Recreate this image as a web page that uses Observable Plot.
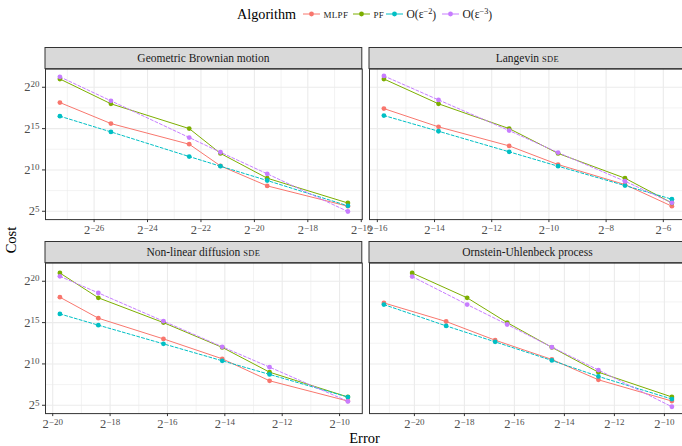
<!DOCTYPE html>
<html><head><meta charset="utf-8">
<script src="https://cdn.jsdelivr.net/npm/d3@7"></script>
<script src="https://cdn.jsdelivr.net/npm/@observablehq/plot@0.6"></script>
<style>
html,body{margin:0;padding:0;background:#fff;overflow:hidden}
#chart{position:relative;width:682px;height:446px;overflow:hidden;font-family:"Liberation Serif",serif;background:#fff}
#chart svg{position:absolute;overflow:visible}
</style></head><body><div id="chart"></div>
<script>
// ---- data (log2 of error, log2 of cost) ----
const algorithms = ["MLPF", "PF", "O(ε^-2)", "O(ε^-3)"];
const algColors = ["#F8766D", "#7CAE00", "#00BFC4", "#C77CFF"];
const panelTitles = ["Geometric Brownian motion", "Langevin SDE", "Non-linear diffusion SDE", "Ornstein-Uhlenbeck process"];
const yTicks = [5, 10, 15, 20];

const gbmErrMLPF = [-27.28, -25.37, -22.44, -21.27, -19.52, -16.50];
const gbmErrPF   = [-27.28, -25.37, -22.44, -21.27, -19.52, -16.50];
const gbmCostMLPF = [18.15, 15.61, 13.11, 10.49, 8.07, 5.61];
const gbmCostPF   = [21, 18, 15, 12, 9, 6];
const gbmCostO2   = [16.5, 14.6, 11.62, 10.45, 8.72, 5.66];
const gbmCostO3   = [21.26, 18.36, 13.92, 12.14, 9.53, 4.97];

const lanErrMLPF = [-15.77, -13.86, -11.39, -9.68, -7.34, -5.70];
const lanErrPF   = [-15.77, -13.86, -11.39, -9.68, -7.34, -5.70];
const lanCostMLPF = [17.42, 15.21, 12.91, 10.65, 8.23, 5.61];
const lanCostPF   = [21, 18, 15, 12, 9, 6];
const lanCostO2   = [16.58, 14.68, 12.19, 10.45, 8.11, 6.46];
const lanCostO3   = [21.37, 18.47, 14.76, 12.1, 8.63, 6.02];

const nldErrMLPF = [-19.75, -18.41, -16.14, -14.09, -12.44, -9.71];
const nldErrPF   = [-19.75, -18.41, -16.14, -14.09, -12.44, -9.71];
const nldCostMLPF = [18.07, 15.53, 13.03, 10.62, 7.96, 5.51];
const nldCostPF   = [21, 18, 15, 12, 9, 6];
const nldCostO2   = [16.05, 14.69, 12.43, 10.38, 8.73, 5.99];
const nldCostO3   = [20.6, 18.59, 15.17, 12.07, 9.61, 5.47];

const ouErrMLPF = [-21.22, -18.73, -16.77, -14.50, -12.64, -9.70];
const ouErrPF   = [-20.09, -17.89, -16.29, -14.50, -12.64, -9.70];
const ouCostMLPF = [17.38, 15.13, 12.87, 10.54, 8.08, 5.51];
const ouCostPF   = [21, 18, 15, 12, 9, 6];
const ouCostO2   = [17.18, 14.6, 12.67, 10.42, 8.49, 5.75];
const ouCostO3   = [20.57, 17.18, 14.77, 12.03, 9.26, 4.82];

const panels = [
  {title: panelTitles[0], errM: gbmErrMLPF, errP: gbmErrPF, costs: [gbmCostMLPF, gbmCostPF, gbmCostO2, gbmCostO3]},
  {title: panelTitles[1], errM: lanErrMLPF, errP: lanErrPF, costs: [lanCostMLPF, lanCostPF, lanCostO2, lanCostO3]},
  {title: panelTitles[2], errM: nldErrMLPF, errP: nldErrPF, costs: [nldCostMLPF, nldCostPF, nldCostO2, nldCostO3]},
  {title: panelTitles[3], errM: ouErrMLPF, errP: ouErrPF, costs: [ouCostMLPF, ouCostPF, ouCostO2, ouCostO3]}
];

// ---- layout ----
const FONT = "Liberation Serif, serif";
const TICK_FS = 12.5;
const FW = 316.8, FH = 150.5, SH = 21.6;
const colLeft = [44.5, 368.6];
const stripTop = [46.7, 240.6];
const expand = ([a, b]) => { const s = (b - a) * 0.05; return [a - s, b + s]; };

const chart = document.getElementById("chart");
const allCosts = panels.flatMap(p => p.costs.flat());
const yDomain = expand(d3.extent(allCosts));
const yMinor = [7.5, 12.5, 17.5];

function smallCaps(sel, main, sc) {
  sel.append("tspan").text(main);
  sel.append("tspan").attr("font-size", "0.74em").attr("letter-spacing", "0.04em").text(sc);
}

panels.forEach((p, i) => {
  const col = i % 2, row = Math.floor(i / 2);
  const ML = col === 0 ? 40 : 1, MR = 1, MT = SH, MB = 26;
  const data = [];
  algorithms.forEach((alg, k) => {
    const errs = (k === 0 || k === 2) ? p.errM : p.errP;
    p.costs[k].forEach((c, j) => data.push({alg, err: errs[j], cost: c, dashed: k >= 2}));
  });
  const xDomain = expand(d3.extent(data, d => d.err));
  const xMajor = d3.range(Math.ceil(xDomain[0]), Math.floor(xDomain[1]) + 1).filter(k => k % 2 === 0);
  const xMinor = d3.range(Math.ceil(xDomain[0]), Math.floor(xDomain[1]) + 1).filter(k => k % 2 !== 0);
  const fmt = d => String(d).replace("-", "\u2212");
  const marks = [
    Plot.gridX(xMinor, {stroke: "#ebebeb", strokeOpacity: 1, strokeWidth: 0.6}),
    Plot.gridY(yMinor, {stroke: "#ebebeb", strokeOpacity: 1, strokeWidth: 0.6}),
    Plot.gridX(xMajor, {stroke: "#ebebeb", strokeOpacity: 1, strokeWidth: 1.1}),
    Plot.gridY(yTicks, {stroke: "#ebebeb", strokeOpacity: 1, strokeWidth: 1.1}),
    Plot.line(data.filter(d => !d.dashed), {x: "err", y: "cost", z: "alg", stroke: "alg", strokeWidth: 1}),
    Plot.line(data.filter(d => d.dashed), {x: "err", y: "cost", z: "alg", stroke: "alg", strokeWidth: 1, strokeDasharray: "3,2"}),
    Plot.dot(data, {x: "err", y: "cost", fill: "alg", r: 2.4}),
    Plot.frame({stroke: "#333333", strokeWidth: 1}),
    Plot.axisX({ticks: xMajor, tickFormat: fmt, tickSize: 3, tickPadding: 3, stroke: "#333333", fill: "#4d4d4d", label: null})
  ];
  if (col === 0) marks.push(Plot.axisY({ticks: yTicks, tickFormat: fmt, tickSize: 3, tickPadding: 3, stroke: "#333333", fill: "#4d4d4d", label: null}));
  const plot = Plot.plot({
    width: ML + FW + MR, height: MT + FH + MB,
    marginLeft: ML, marginRight: MR, marginTop: MT, marginBottom: MB,
    style: {fontFamily: FONT, fontSize: "11px", background: "transparent", overflow: "visible"},
    x: {domain: xDomain},
    y: {domain: yDomain, axis: col === 0 ? undefined : null},
    color: {domain: algorithms, range: algColors},
    marks
  });
  plot.style.left = (colLeft[col] - ML) + "px";
  plot.style.top = stripTop[row] + "px";
  const svg = d3.select(plot);
  // superscript tick labels 2^n
  svg.selectAll('g[aria-label="x-axis tick label"] text, g[aria-label="y-axis tick label"] text').each(function () {
    const s = this.textContent;
    this.textContent = "";
    const t = d3.select(this).attr("font-family", FONT).style("font-size", TICK_FS + "px");
    t.append("tspan").text("2");
    t.append("tspan").attr("dy", "-0.42em").style("font-size", (TICK_FS * 0.72) + "px").text(s);
  });
  // strip
  svg.append("rect").attr("x", ML).attr("y", 0.5).attr("width", FW).attr("height", SH - 0.5)
    .attr("fill", "#d9d9d9").attr("stroke", "#333333").attr("stroke-width", 1);
  const st = svg.append("text").attr("x", ML + FW / 2).attr("y", SH / 2 + 4)
    .attr("text-anchor", "middle").attr("font-size", "11.5px").attr("fill", "#1a1a1a").attr("font-family", FONT);
  const m = p.title.match(/^(.*) (SDE)$/);
  if (m) smallCaps(st, m[1] + " ", m[2]); else st.text(p.title);
  chart.appendChild(plot);
});

// ---- titles and legend ----
const over = d3.select(chart).append("svg").attr("width", 682).attr("height", 446)
  .style("left", "0px").style("top", "0px").attr("font-family", FONT);
over.append("text").attr("x", 364.5).attr("y", 442.5).attr("text-anchor", "middle")
  .attr("font-size", "14.5px").attr("fill", "#000").text("Error");
over.append("text").attr("transform", "translate(15.5,240) rotate(-90)").attr("text-anchor", "middle")
  .attr("font-size", "14.5px").attr("fill", "#000").text("Cost");
over.append("text").attr("x", 237).attr("y", 18.5).attr("font-size", "14.2px").attr("fill", "#000").text("Algorithm");
const keyX = [303, 353, 386, 442];
algorithms.forEach((alg, k) => {
  const x0 = keyX[k];
  over.append("line").attr("x1", x0).attr("x2", x0 + 17).attr("y1", 14).attr("y2", 14)
    .attr("stroke", algColors[k]).attr("stroke-width", 1);
  over.append("circle").attr("cx", x0 + 8.5).attr("cy", 14).attr("r", 2.4).attr("fill", algColors[k]);
  const t = over.append("text").attr("x", x0 + 20.5).attr("y", 17.8).attr("fill", "#1a1a1a");
  if (k < 2) {
    t.attr("font-size", "9px").attr("letter-spacing", "0.3px").text(alg);
  } else {
    const m = alg.match(/^O\(ε\^(-\d)\)$/);
    t.attr("font-size", "11.5px");
    t.append("tspan").text("O(ε");
    t.append("tspan").attr("dy", "-0.45em").attr("font-size", "0.72em").text(m[1].replace("-", "\u2212"));
    t.append("tspan").attr("dy", "0.45em").text(")");
  }
});
</script></body></html>
